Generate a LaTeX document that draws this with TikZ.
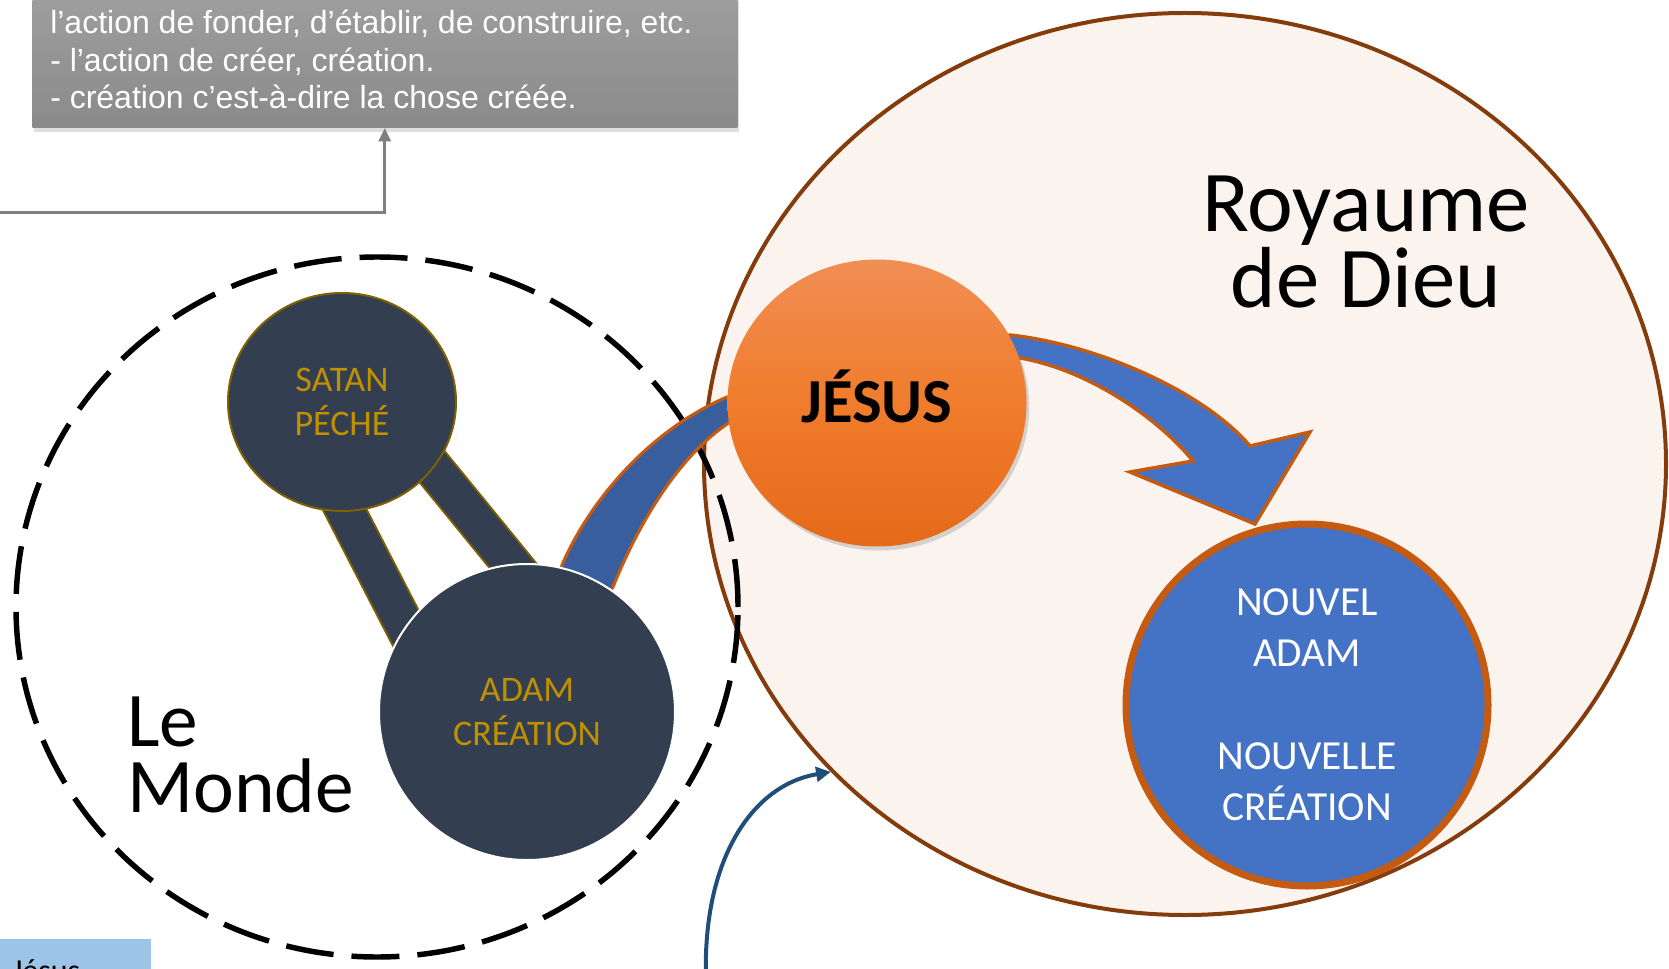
\documentclass[tikz,border=0pt]{standalone}
\usepackage{fontspec}
\setmainfont{Carlito}
\newfontfamily\arialf{Liberation Sans}
\usetikzlibrary{shapes.geometric,arrows.meta,shadows}
\pgfdeclarelayer{bg}
\pgfdeclarelayer{links}
\pgfsetlayers{bg,links,main}

\definecolor{slate}{HTML}{333F50}
\definecolor{goldtxt}{HTML}{BF9000}
\definecolor{goldline}{HTML}{7F6000}
\definecolor{peach}{HTML}{FBF3EE}
\definecolor{brownline}{HTML}{843C0C}
\definecolor{orangeline}{HTML}{C55A11}
\definecolor{nblue}{HTML}{4472C4}
\definecolor{bandblue}{HTML}{385E9D}
\definecolor{darkblue}{HTML}{1F4E79}
\definecolor{lightblue}{HTML}{9DC3E6}
\definecolor{linkgray}{HTML}{7F7F7F}
\definecolor{jtop}{RGB}{241,142,84}
\definecolor{jmid}{RGB}{240,124,44}
\definecolor{jbot}{RGB}{229,106,26}
\definecolor{boxtop}{RGB}{168,168,168}
\definecolor{boxbot}{RGB}{138,138,138}

\begin{document}
\begin{tikzpicture}[x=0.75pt,y=-0.75pt,
  defboxstyle/.style={rectangle,inner sep=0,minimum width=528.75pt,minimum height=150pt,
    top color=boxtop,bottom color=boxbot,
    drop shadow={shadow xshift=1pt,shadow yshift=-3pt,opacity=0.25}},
  deftextstyle/.style={inner sep=0,align=left,text=white,font=\arialf\fontsize{24}{28.1}\selectfont},
  graylink/.style={draw=linkgray,line width=2.25pt,-{Triangle[length=10pt,width=9pt]}},
  royal/.style={ellipse,inner sep=0,fill=peach,draw=brownline,line width=3pt,
    minimum width=721.5pt,minimum height=676.5pt},
  bigtext/.style={inner sep=0,align=center,font=\fontsize{65}{57}\selectfont},
  mondetext/.style={inner sep=0,align=left,font=\fontsize{58}{49.5}\selectfont},
  world/.style={ellipse,inner sep=0,draw=black,line width=4.1pt,dash pattern=on 36pt off 13.5pt,
    minimum width=541.5pt,minimum height=525pt},
  darkdisc/.style={ellipse,inner sep=0,fill=slate,align=center,text=goldtxt,
    font=\fontsize{27}{33}\selectfont},
  linkbar/.style={draw=goldline,line width=1.5pt,double=slate,double distance=27.75pt,
    shorten <=-25pt,shorten >=-25pt},
  band/.style={fill=bandblue,draw=orangeline,line width=2.3pt,line join=round},
  bigarrow/.style={fill=nblue,draw=orangeline,line width=2.6pt,line join=miter},
  jesusdisc/.style={ellipse,inner sep=0,top color=jtop,bottom color=jbot,middle color=jmid,
    minimum width=224.25pt,minimum height=215.25pt,
    font=\bfseries\fontsize{47}{50}\selectfont,text height=30pt,
    drop shadow={shadow xshift=2pt,shadow yshift=-3pt,opacity=0.3}},
  newdisc/.style={circle,inner sep=0,fill=nblue,draw=orangeline,line width=5.25pt,
    minimum size=271.5pt,align=center,text=white,font=\fontsize{31}{38.5}\selectfont},
  thinarrow/.style={draw=darkblue,line width=3pt,-{Triangle[length=11pt,width=11pt]}},
  lbbox/.style={rectangle,inner sep=0,fill=lightblue,minimum width=113.25pt,minimum height=45pt}
]
\useasboundingbox (0,0) rectangle (1669,969);
\clip (0,0) rectangle (1669,969);

% definition box and its connector
\node[defboxstyle,anchor=south west] (defbox) at (32,128) {};
\node[deftextstyle,anchor=west] (deftext) at (50,59.5)
  {l’action de fonder, d’établir, de construire, etc.\\- l’action de créer, création.\\- création c’est-à-dire la chose créée.};
\coordinate (cstart) at (-5,213);
\draw[graylink] (cstart) -| (defbox.south);

% main discs
\node[darkdisc,draw=goldline,line width=1.5pt,minimum width=171pt,minimum height=163.5pt] (satan) at (342,402) {SATAN\\PÉCHÉ};
\node[darkdisc,circle,draw=white,line width=1.5pt,minimum size=222pt] (adam) at (527,712) {ADAM\\CRÉATION};
\node[jesusdisc] (jesus) at (877,403) {JÉSUS};
\node[newdisc] (nouvel) at (1307,705) {NOUVEL\\ADAM\\[38.5pt]NOUVELLE\\CRÉATION};

% Le Monde text
\node[mondetext,anchor=west] (lemonde) at (127,755) {Le\\Monde};

% light blue box at the bottom
\node[lbbox,anchor=north west] (jbox) at (0,939) {};
\node[inner sep=0,anchor=base west,font=\fontsize{24}{28}\selectfont] (jtext) at (12,981) {Jésus};

\begin{pgfonlayer}{bg}
  \clip (0,0) rectangle (1669,969);
  % Royaume de Dieu
  \node[royal] (royaume) at (1185,464) {};
  \node[bigtext] (roytext) at (1366,242) {Royaume\\de Dieu};
  % thin arrow from below
  \coordinate (bstart) at (706,980);
  \draw[thinarrow] (bstart) .. controls (702,860) and (752,785) .. (royaume.221);
  % Le Monde (dashed)
  \node[world] (monde) at (377,607) {};
\end{pgfonlayer}

\begin{pgfonlayer}{links}
  \clip (0,0) rectangle (1669,969);
  % bars between SATAN and ADAM
  \draw[linkbar] (satan.272) -- (adam.145);
  \draw[linkbar] (satan.324) -- (adam.96);
  % band from ADAM to JESUS
  \path[band] (adam.center) -- (562,565) .. controls (590,500) and (650,430) .. (727,397)
    -- (jesus.center) -- (730,422) .. controls (680,455) and (640,520) .. (613,587) -- cycle;
  % big arrow from JESUS to NOUVEL ADAM
  \path[bigarrow] (jesus.center) -- (1010,335) .. controls (1100,345) and (1205,393) .. (1250,446)
    -- (1310,432) -- (1255,524) -- (1130,472) -- (1193,461)
    .. controls (1160,420) and (1090,370) .. (1020,358) -- cycle;
\end{pgfonlayer}
\end{tikzpicture}
\end{document}
